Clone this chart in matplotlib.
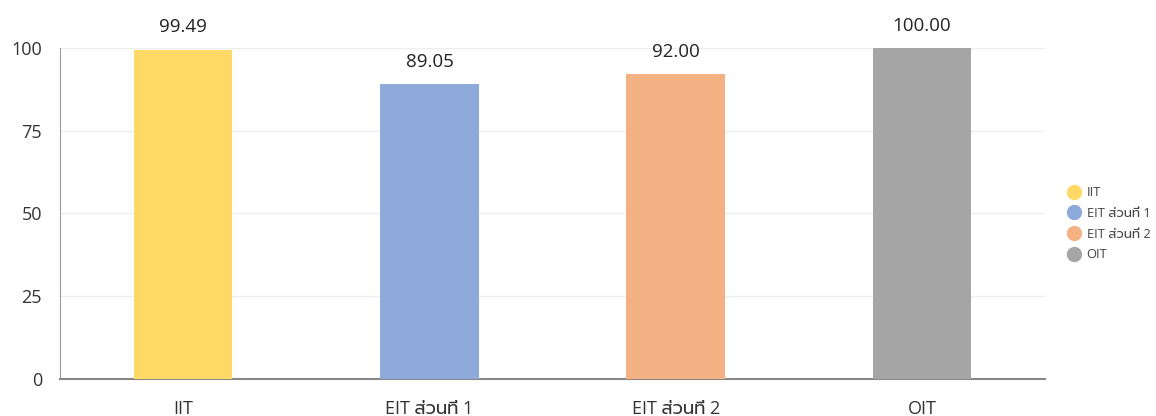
import numpy as np
import matplotlib
matplotlib.use("Agg")
from matplotlib import pyplot as plt
from matplotlib.lines import Line2D

categories = ["IIT", "EIT ส่วนที่ 1", "EIT ส่วนที่ 2", "OIT"]
scores = [99.49, 89.05, 92.00, 100.00]
colors = ["#FFD966", "#8EAADB", "#F4B183", "#A5A5A5"]
yticks = [0, 25, 50, 75, 100]

# Latin from Open Sans, Thai falls back to Prompt
plt.rcParams['font.family'] = ['Open Sans', 'Prompt', 'DejaVu Sans']

fig = plt.figure(figsize=(11.56, 4.16), dpi=100)
ax = fig.add_axes([0.052, 0.089, 0.852, 0.796])

x = np.arange(len(categories))
bars = ax.bar(x, scores, width=0.4, color=colors, zorder=3)
for xi, v in zip(x, scores):
    ax.text(xi, v + 4, f"{v:.2f}", ha="center", va="bottom", fontsize=13.5, color="#222222")

ax.set_xlim(-0.5, 3.5)
ax.set_ylim(0, 100)
ax.set_yticks(yticks)
ax.set_xticks(x)
ax.set_xticklabels(categories, fontsize=13, color="#333333")
ax.tick_params(axis="y", labelsize=13, labelcolor="#333333", length=0, pad=13)
ax.tick_params(axis="x", length=0, pad=15)
ax.grid(axis="y", color="#EEEEEE", linewidth=1, zorder=0)
for s in ["top", "right"]:
    ax.spines[s].set_visible(False)
ax.spines["left"].set_color("#999999")
ax.spines["bottom"].set_color("#888888")
ax.spines["bottom"].set_linewidth(1.5)

handles = [Line2D([], [], marker="o", linestyle="none", markersize=10,
                  markerfacecolor=c, markeredgecolor=c) for c in colors]
fig.legend(handles, categories, loc="center left", bbox_to_anchor=(0.916, 0.462),
           frameon=False, fontsize=9.3, handletextpad=0.25, labelspacing=0.6,
           labelcolor="#444444", borderaxespad=0, handlelength=1.5)

fig.savefig("out.png", dpi=100)
